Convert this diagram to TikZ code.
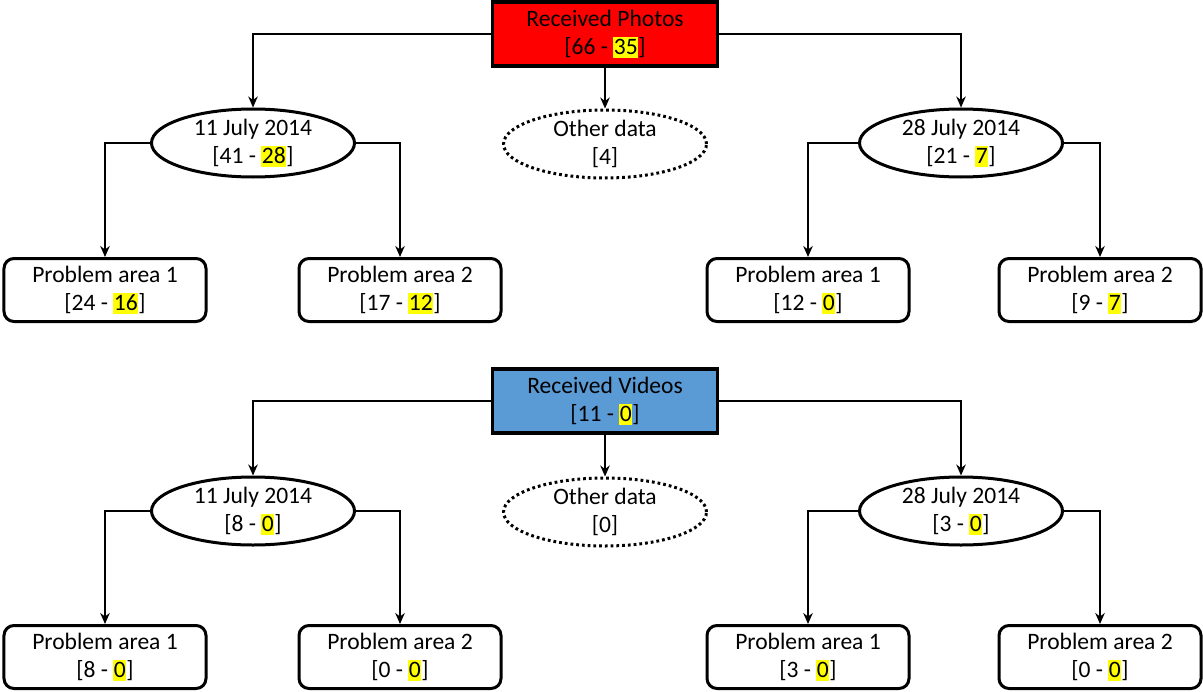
\documentclass[tikz,border=0pt]{standalone}
\usepackage{fontspec}
\setmainfont{Carlito}
\usepackage{xcolor}
\usetikzlibrary{arrows.meta,shapes.geometric}
\definecolor{photored}{RGB}{255,0,0}
\definecolor{videoblue}{RGB}{91,155,213}
\definecolor{markyellow}{RGB}{255,255,0}
\newcommand{\hlnum}[1]{%
  {\setlength{\fboxsep}{0.3pt}%
   \colorbox{markyellow}{\rule[-0.12em]{0pt}{0.86em}#1}}}

\tikzset{
  rootbox/.style={draw, line width=.75mm, minimum width=45mm,
    minimum height=12.8mm, inner sep=0pt, align=center},
  datebox/.style={ellipse, draw, line width=.6mm, minimum width=40.6mm,
    minimum height=13.6mm, inner xsep=0pt, inner ysep=-1mm, align=center},
  otherbox/.style={datebox, dash pattern=on .55mm off .6mm},
  areabox/.style={draw, rounded corners=2mm, line width=.6mm,
    minimum width=40.4mm, minimum height=12.6mm, inner sep=0pt,
    align=center},
  link/.style={line width=.45mm, -{Stealth[length=2.2mm,width=1.9mm]}},
}

\begin{document}
\begin{tikzpicture}[x=.2mm, y=-.2mm,
    font=\fontsize{13.4}{16}\selectfont]
  \useasboundingbox (0,0) rectangle (1203,691);

  % Photos tree.
  \node[rootbox, fill=photored] (photos) at (605,34)
    {Received Photos\\{[}66 - \hlnum{35}{]}};
  \node[datebox] (phjul11) at (253,143) {11 July 2014\\{[}41 - \hlnum{28}{]}};
  \node[otherbox] (phother) at (605,144) {Other data\\{[}4{]}};
  \node[datebox] (phjul28) at (961,143) {28 July 2014\\{[}21 - \hlnum{7}{]}};
  \node[areabox] (pha) at (105,290) {Problem area 1\\{[}24 - \hlnum{16}{]}};
  \node[areabox] (phb) at (400,290) {Problem area 2\\{[}17 - \hlnum{12}{]}};
  \node[areabox] (phc) at (808,290) {Problem area 1\\{[}12 - \hlnum{0}{]}};
  \node[areabox] (phd) at (1100,290) {Problem area 2\\{[}9 - \hlnum{7}{]}};

  \draw[link] (photos.west) -| (phjul11.north);
  \draw[link] (photos.south) -- (phother.north);
  \draw[link] (photos.east) -| (phjul28.north);
  \draw[link] (phjul11.west) -| (pha.north);
  \draw[link] (phjul11.east) -| (phb.north);
  \draw[link] (phjul28.west) -| (phc.north);
  \draw[link] (phjul28.east) -| (phd.north);

  % Videos tree.
  \node[rootbox, fill=videoblue] (videos) at (605,401)
    {Received Videos\\{[}11 - \hlnum{0}{]}};
  \node[datebox] (vijul11) at (253,511) {11 July 2014\\{[}8 - \hlnum{0}{]}};
  \node[otherbox] (viother) at (605,512) {Other data\\{[}0{]}};
  \node[datebox] (vijul28) at (961,511) {28 July 2014\\{[}3 - \hlnum{0}{]}};
  \node[areabox] (via) at (105,657) {Problem area 1\\{[}8 - \hlnum{0}{]}};
  \node[areabox] (vib) at (400,657) {Problem area 2\\{[}0 - \hlnum{0}{]}};
  \node[areabox] (vic) at (808,657) {Problem area 1\\{[}3 - \hlnum{0}{]}};
  \node[areabox] (vid) at (1100,657) {Problem area 2\\{[}0 - \hlnum{0}{]}};

  \draw[link] (videos.west) -| (vijul11.north);
  \draw[link] (videos.south) -- (viother.north);
  \draw[link] (videos.east) -| (vijul28.north);
  \draw[link] (vijul11.west) -| (via.north);
  \draw[link] (vijul11.east) -| (vib.north);
  \draw[link] (vijul28.west) -| (vic.north);
  \draw[link] (vijul28.east) -| (vid.north);
\end{tikzpicture}
\end{document}
